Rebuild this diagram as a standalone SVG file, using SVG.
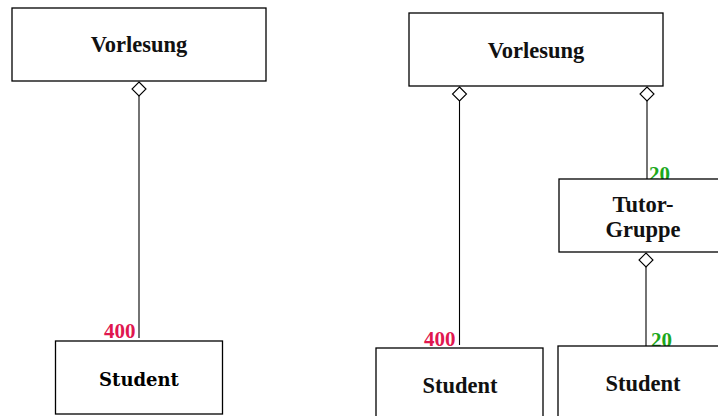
<svg xmlns="http://www.w3.org/2000/svg" width="718" height="416" viewBox="0 0 718 416">
<style>
.box{fill:#fff;stroke:#000;stroke-width:1.3}
.t{font-family:"Liberation Serif","DejaVu Serif",serif;font-weight:bold;font-size:22.5px;text-anchor:middle;fill:#111}
.ts{font-family:"DejaVu Serif",serif;font-weight:bold;font-size:18px;text-anchor:middle;fill:#000}
.ln{stroke:#000;stroke-width:1.1;fill:none}
.dia{fill:#fff;stroke:#000;stroke-width:1.1}
.red{font-family:"Liberation Serif",serif;font-weight:bold;font-size:21px;fill:#e0174f}
.grn{font-family:"Liberation Serif",serif;font-weight:bold;font-size:21px;fill:#1ca81c}
</style>
<rect width="718" height="416" fill="#fff"/>
<g id="connectors">
<line class="ln" x1="139" y1="96" x2="139" y2="338"/>
<path class="dia" d="M139 82 L146 89 L139 96 L132 89 Z"/>
<line class="ln" x1="459.5" y1="101" x2="459.5" y2="345"/>
<path class="dia" d="M459.5 87 L466.5 94 L459.5 101 L452.5 94 Z"/>
<line class="ln" x1="647" y1="101" x2="647" y2="179"/>
<path class="dia" d="M647 87 L654 94 L647 101 L640 94 Z"/>
<line class="ln" x1="646" y1="267" x2="646" y2="346"/>
<path class="dia" d="M646 253 L653 260 L646 267 L639 260 Z"/>
<text class="red" x="104" y="338">400</text>
<text class="red" x="424" y="346">400</text>
<text class="grn" x="649" y="181">20</text>
<text class="grn" x="651" y="347">20</text>
</g>
<g id="vorlesung1">
<rect class="box" x="12" y="8" width="254" height="73"/>
<text class="t" x="139" y="52">Vorlesung</text>
</g>
<g id="student1">
<rect class="box" x="55.5" y="341" width="167" height="73"/>
<text class="ts" x="139" y="386">Student</text>
</g>
<g id="vorlesung2">
<rect class="box" x="409" y="13" width="254" height="73"/>
<text class="t" x="536" y="58">Vorlesung</text>
</g>
<g id="tutorgruppe">
<rect class="box" x="559" y="179" width="170" height="73"/>
<text class="t" x="643" y="212">Tutor-</text>
<text class="t" x="643" y="237">Gruppe</text>
</g>
<g id="student2">
<rect class="box" x="376" y="348" width="167" height="80"/>
<text class="t" x="460" y="393">Student</text>
</g>
<g id="student3">
<rect class="box" x="558" y="346" width="170" height="80"/>
<text class="t" x="643" y="391">Student</text>
</g>
</svg>
